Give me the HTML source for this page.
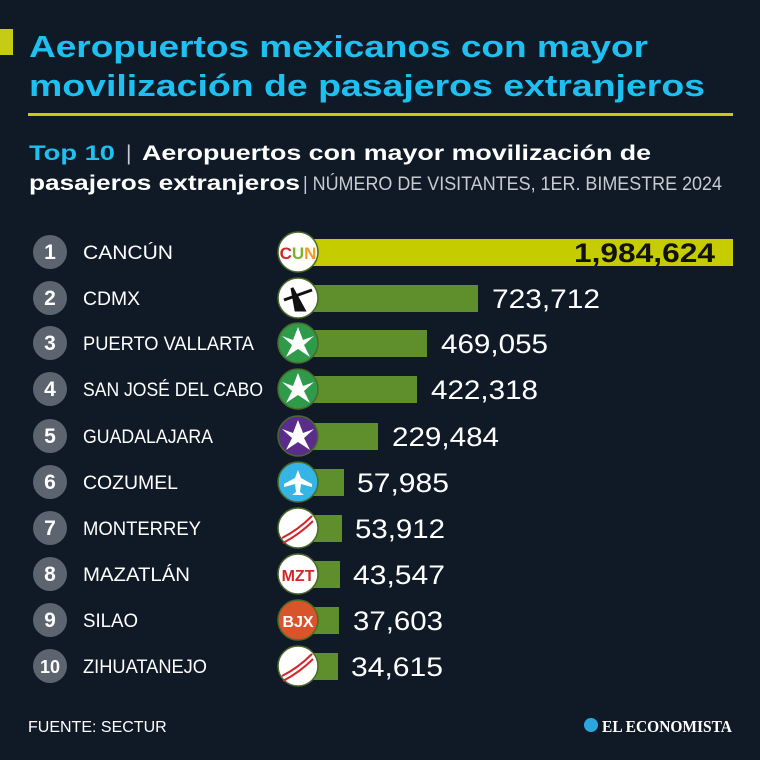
<!DOCTYPE html>
<html><head><meta charset="utf-8"><style>
html,body{margin:0;padding:0;background:#101a27;}
svg{display:block;font-family:"Liberation Sans",sans-serif;}
</style></head><body>
<svg width="760" height="760" viewBox="0 0 760 760" xmlns="http://www.w3.org/2000/svg">
<rect width="760" height="760" fill="#101a27"/>
<rect x="0" y="29" width="13" height="26" fill="#c5cc16"/>
<text x="29" y="57" font-size="31" font-weight="bold" fill="#1ec0f2" textLength="619" lengthAdjust="spacingAndGlyphs">Aeropuertos mexicanos con mayor</text>
<text x="29" y="96" font-size="31" font-weight="bold" fill="#1ec0f2" textLength="676" lengthAdjust="spacingAndGlyphs">movilización de pasajeros extranjeros</text>
<rect x="28" y="113" width="705" height="3" fill="#c5cc16"/>
<text x="29" y="160" font-size="21" font-weight="bold" fill="#1ec0f2" textLength="86" lengthAdjust="spacingAndGlyphs">Top 10</text>
<text x="126" y="160" font-size="21" fill="#c8ccd2">|</text>
<text x="142" y="160" font-size="21" font-weight="bold" fill="#fff" textLength="509" lengthAdjust="spacingAndGlyphs">Aeropuertos con mayor movilización de</text>
<text x="29" y="190" font-size="21" font-weight="bold" fill="#fff" textLength="271" lengthAdjust="spacingAndGlyphs">pasajeros extranjeros</text>
<text x="303" y="190" font-size="19" fill="#c8ccd2" textLength="419" lengthAdjust="spacingAndGlyphs">| NÚMERO DE VISITANTES, 1ER. BIMESTRE 2024</text>

<!-- bars -->
<rect x="298" y="239" width="435" height="27" fill="#c5cc00"/>
<rect x="298" y="285" width="180" height="27" fill="#5f8f2c"/>
<rect x="298" y="330" width="129" height="27" fill="#5f8f2c"/>
<rect x="298" y="376" width="119" height="27" fill="#5f8f2c"/>
<rect x="298" y="423" width="80" height="27" fill="#5f8f2c"/>
<rect x="298" y="469" width="46" height="27" fill="#5f8f2c"/>
<rect x="298" y="515" width="44" height="27" fill="#5f8f2c"/>
<rect x="298" y="561" width="42" height="27" fill="#5f8f2c"/>
<rect x="298" y="607" width="41" height="27" fill="#5f8f2c"/>
<rect x="298" y="653" width="40" height="27" fill="#5f8f2c"/>

<g fill="#5c6470">
<circle cx="50" cy="252" r="17"/><circle cx="50" cy="298" r="17"/><circle cx="50" cy="343" r="17"/><circle cx="50" cy="389" r="17"/><circle cx="50" cy="436" r="17"/><circle cx="50" cy="482" r="17"/><circle cx="50" cy="528" r="17"/><circle cx="50" cy="574" r="17"/><circle cx="50" cy="620" r="17"/><circle cx="50" cy="666" r="17"/>
</g>
<g fill="#fff" font-size="21" font-weight="bold" text-anchor="middle">
<text x="50" y="259">1</text><text x="50" y="305">2</text><text x="50" y="350">3</text><text x="50" y="396">4</text><text x="50" y="443">5</text><text x="50" y="489">6</text><text x="50" y="535">7</text><text x="50" y="581">8</text><text x="50" y="627">9</text><text x="50" y="673" font-size="18">10</text>
</g>
<g fill="#fff" font-size="19" lengthAdjust="spacingAndGlyphs">
<text x="83" y="259" textLength="90" lengthAdjust="spacingAndGlyphs">CANCÚN</text>
<text x="83" y="305" textLength="57" lengthAdjust="spacingAndGlyphs">CDMX</text>
<text x="83" y="350" textLength="171" lengthAdjust="spacingAndGlyphs">PUERTO VALLARTA</text>
<text x="83" y="396" textLength="180" lengthAdjust="spacingAndGlyphs">SAN JOSÉ DEL CABO</text>
<text x="83" y="443" textLength="130" lengthAdjust="spacingAndGlyphs">GUADALAJARA</text>
<text x="83" y="489" textLength="95" lengthAdjust="spacingAndGlyphs">COZUMEL</text>
<text x="83" y="535" textLength="118" lengthAdjust="spacingAndGlyphs">MONTERREY</text>
<text x="83" y="581" textLength="107" lengthAdjust="spacingAndGlyphs">MAZATLÁN</text>
<text x="83" y="627" textLength="55" lengthAdjust="spacingAndGlyphs">SILAO</text>
<text x="83" y="673" textLength="124" lengthAdjust="spacingAndGlyphs">ZIHUATANEJO</text>
</g>
<!-- logos -->
<g stroke="#4a6a2a" stroke-width="1.5">
<circle cx="298" cy="252" r="20" fill="#fff"/>
<circle cx="298" cy="298" r="20" fill="#fff"/>
<circle cx="298" cy="343" r="20" fill="#2e9a4a"/>
<circle cx="298" cy="389" r="20" fill="#2e9a4a"/>
<circle cx="298" cy="436" r="20" fill="#5a2d8c"/>
<circle cx="298" cy="482" r="20" fill="#35b4e6"/>
<circle cx="298" cy="528" r="20" fill="#fff"/>
<circle cx="298" cy="574" r="20" fill="#fff"/>
<circle cx="298" cy="620" r="20" fill="#d9542a"/>
<circle cx="298" cy="666" r="20" fill="#fff"/>
</g>
<text x="298" y="259" font-size="17" font-weight="bold" text-anchor="middle"><tspan fill="#d3262b">C</tspan><tspan fill="#7ab327">U</tspan><tspan fill="#f29a1f">N</tspan></text>
<path d="M284 300 L312 290 M292 288 L304 310 L296 310 Z" stroke="#111" stroke-width="3" fill="#111"/>
<g fill="#fff"><path d="M298 327 L303 340 L314 336 L304 345 L310 357 L298 349 L286 357 L292 345 L282 336 L293 340Z"/>
<path d="M298 373 L303 386 L314 382 L304 391 L310 403 L298 395 L286 403 L292 391 L282 382 L293 386Z"/>
<path d="M298 420 L303 433 L314 429 L304 438 L310 450 L298 442 L286 450 L292 438 L282 429 L293 433Z"/>
<path d="M298 470 L301 478 L312 484 L312 487 L301 484 L300 492 L304 495 L292 495 L296 492 L295 484 L284 487 L284 484 L295 478Z"/></g>
<path d="M282 538 Q298 530 312 516 M283 543 Q300 534 313 521" stroke="#d3262b" stroke-width="2" fill="none"/>
<path d="M282 676 Q298 668 312 654 M283 681 Q300 672 313 659" stroke="#d3262b" stroke-width="2" fill="none"/>
<text x="298" y="581" font-size="16" font-weight="bold" fill="#d3262b" text-anchor="middle">MZT</text>
<text x="298" y="627" font-size="16" font-weight="bold" fill="#fff" text-anchor="middle">BJX</text>
<!-- values -->
<text x="574" y="262" font-size="27" font-weight="bold" fill="#111" textLength="141" lengthAdjust="spacingAndGlyphs">1,984,624</text>
<g fill="#fff" font-size="27">
<text x="492" y="308" textLength="108" lengthAdjust="spacingAndGlyphs">723,712</text>
<text x="441" y="353" textLength="107" lengthAdjust="spacingAndGlyphs">469,055</text>
<text x="431" y="399" textLength="107" lengthAdjust="spacingAndGlyphs">422,318</text>
<text x="392" y="446" textLength="107" lengthAdjust="spacingAndGlyphs">229,484</text>
<text x="357" y="492" textLength="92" lengthAdjust="spacingAndGlyphs">57,985</text>
<text x="355" y="538" textLength="90" lengthAdjust="spacingAndGlyphs">53,912</text>
<text x="353" y="584" textLength="92" lengthAdjust="spacingAndGlyphs">43,547</text>
<text x="353" y="630" textLength="90" lengthAdjust="spacingAndGlyphs">37,603</text>
<text x="351" y="676" textLength="92" lengthAdjust="spacingAndGlyphs">34,615</text>
</g>
<text x="28" y="732" font-size="16" fill="#fff">FUENTE: SECTUR</text>
<circle cx="591" cy="725" r="7" fill="#2aa8de"/>
<text x="602" y="732" font-size="17" font-family="Liberation Serif,serif" font-weight="bold" fill="#fff" textLength="130" lengthAdjust="spacingAndGlyphs">EL ECONOMISTA</text>
</svg>
</body></html>
